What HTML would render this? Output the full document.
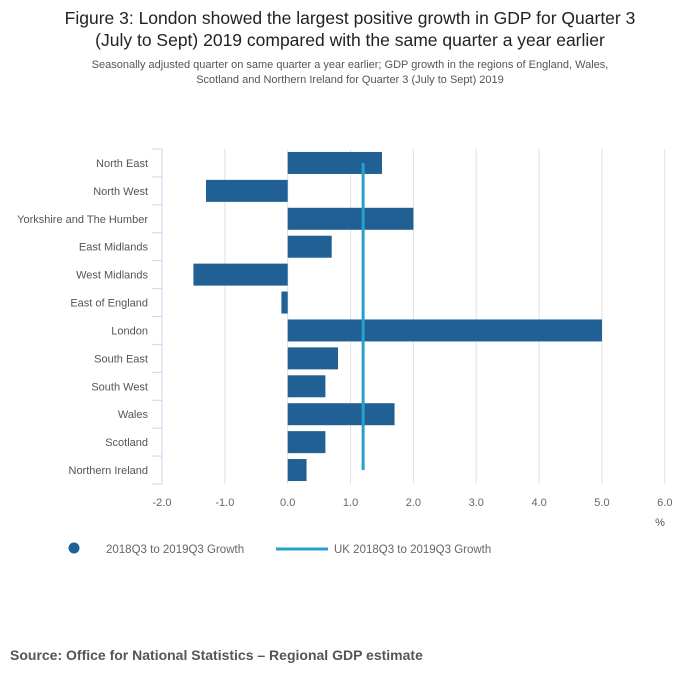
<!DOCTYPE html>
<html><head><meta charset="utf-8"><style>
body{margin:0;background:#fff;font-family:"Liberation Sans",sans-serif;}
svg text{font-family:"Liberation Sans",sans-serif;}
</style></head><body>
<svg width="700" height="682" xmlns="http://www.w3.org/2000/svg">
<text x="350" y="24" text-anchor="middle" font-size="17.5" fill="#222">Figure 3: London showed the largest positive growth in GDP for Quarter 3</text>
<text x="350" y="46" text-anchor="middle" font-size="17.5" fill="#222">(July to Sept) 2019 compared with the same quarter a year earlier</text>
<text x="350" y="68" text-anchor="middle" font-size="11" fill="#555">Seasonally adjusted quarter on same quarter a year earlier; GDP growth in the regions of England, Wales,</text>
<text x="350" y="83" text-anchor="middle" font-size="11" fill="#555">Scotland and Northern Ireland for Quarter 3 (July to Sept) 2019</text>
<g id="grid"></g><g id="bars"></g><g id="axes"></g>
<text x="660" y="526" text-anchor="middle" font-size="11" fill="#555">%</text>
<circle cx="74" cy="548" r="5.5" fill="#206095"/>
<text x="106" y="553" font-size="11.5" fill="#666">2018Q3 to 2019Q3 Growth</text>
<line x1="276" y1="549" x2="328" y2="549" stroke="#27a0cc" stroke-width="3"/>
<text x="334" y="553" font-size="11.5" fill="#666">UK 2018Q3 to 2019Q3 Growth</text>
<text x="10" y="660" font-size="14" font-weight="bold" fill="#555">Source: Office for National Statistics – Regional GDP estimate</text>
</svg>
<script>
const categories=["North East","North West","Yorkshire and The Humber","East Midlands","West Midlands","East of England","London","South East","South West","Wales","Scotland","Northern Ireland"];
const values=[1.5,-1.3,2.0,0.7,-1.5,-0.1,5.0,0.8,0.6,1.7,0.6,0.3];
const ukValue=[1.2];
const ticks=[-2,-1,0,1,2,3,4,5,6];
const NS="http://www.w3.org/2000/svg";
const x0=162,x1=664.8,xmin=-2,xmax=6,yTop=149,yBot=484;
const xs=v=>x0+(v-xmin)/(xmax-xmin)*(x1-x0);
const rh=(yBot-yTop)/categories.length;
const yc=i=>yTop+rh*(i+0.5);
function mk(t,a,p){const e=document.createElementNS(NS,t);for(const k in a)e.setAttribute(k,a[k]);document.getElementById(p).appendChild(e);return e;}
ticks.forEach(t=>{
 if(t>xmin){const g=mk('line',{x1:xs(t),x2:xs(t),y1:yTop,y2:yBot,stroke:'#e0e0e0','stroke-width':1},'grid');
 
 }
 const l=mk('text',{x:xs(t),y:506,'text-anchor':'middle','font-size':11,fill:'#666'},'axes');
 l.textContent=t.toFixed(1);
 
 
});
const ax=mk('line',{x1:x0,x2:x0,y1:yTop,y2:yBot,stroke:'#ccd6eb','stroke-width':1},'axes');


for(let i=0;i<=categories.length;i++){const tk=mk('line',{x1:x0-10,x2:x0,y1:yTop+rh*i,y2:yTop+rh*i,stroke:'#ccd6eb'},'axes');

}
categories.forEach((c,i)=>{
 const l=mk('text',{x:148,y:yc(i)+4,'text-anchor':'end','font-size':11,fill:'#555'},'axes');
 l.textContent=c;
 
 
 const v=values[i];
 const b=mk('rect',{x:Math.min(xs(0),xs(v)),y:yc(i)-11,width:Math.abs(xs(v)-xs(0)),height:22,fill:'#206095'},'bars');
 
 
});
const u=mk('line',{x1:xs(ukValue[0]),x2:xs(ukValue[0]),y1:yc(0),y2:yc(categories.length-1),stroke:'#27a0cc','stroke-width':3},'bars');


</script>
</body></html>
